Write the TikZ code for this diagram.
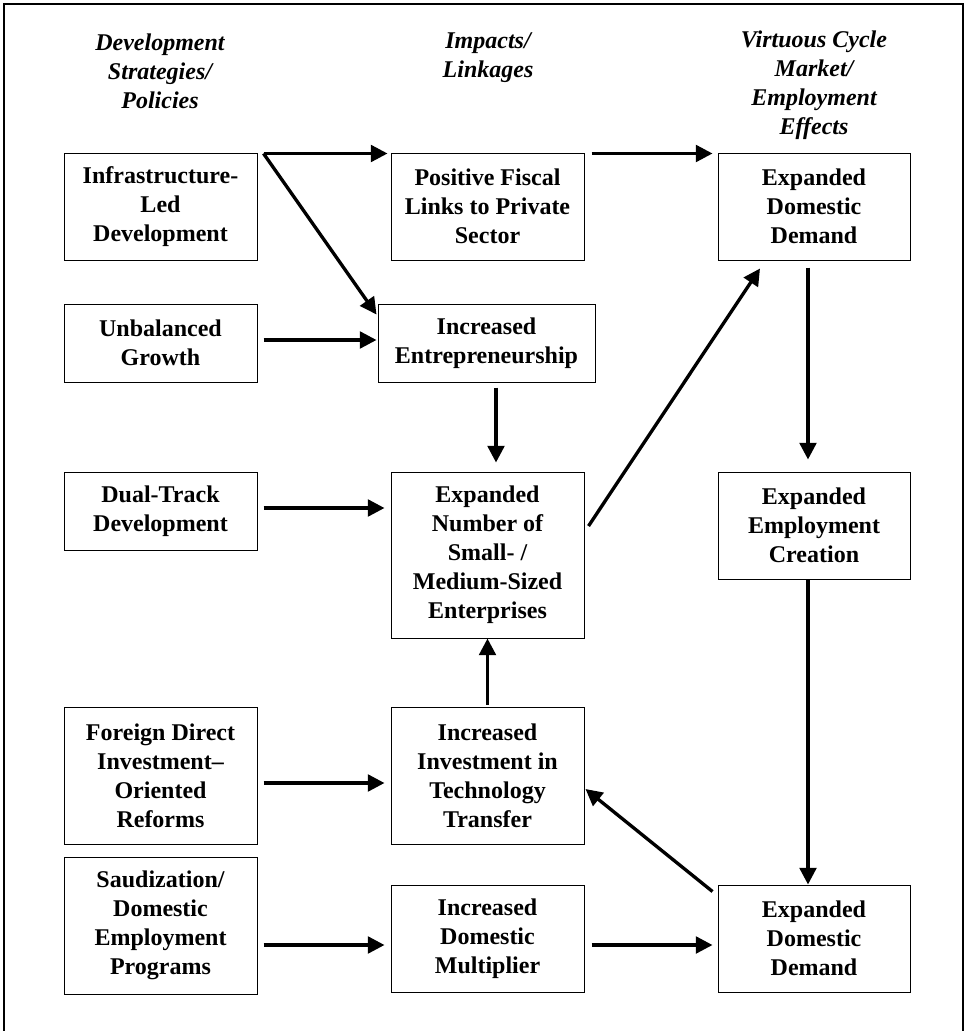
\documentclass[tikz,border=0pt]{standalone}
\usepackage{fontspec}
\setmainfont{Liberation Serif}
\usetikzlibrary{arrows.meta,calc}

\tikzset{
	box/.style={draw, line width=0.75pt, align=center, inner sep=0pt, font=\fontsize{18}{21.75}\selectfont\bfseries},
	dims/.style 2 args={minimum width=#1*0.75pt, minimum height=#2*0.75pt},
	head/.style={align=center, font=\fontsize{18}{21.75}\selectfont\bfseries\itshape},
	link/.style={line width=2.5pt, -{Triangle[length=12.5pt,width=12.5pt]}},
}

\begin{document}
\begin{tikzpicture}[x=0.75pt, y=-0.75pt]
	\useasboundingbox (0,0) rectangle (965,1031);
	\draw[line width=1.5pt] (4,1031) -- (4,4) -- (963,4) -- (963,1031);

	\node[head] (hpolicy) at (160,71.5) {Development\\Strategies/\\Policies};
	\node[head] (himpact) at (488,57.5) {Impacts/\\Linkages};
	\node[head] (heffect) at (814,85.5) {Virtuous Cycle\\Market/\\Employment\\Effects};

	\node[box, dims={193}{107}] (infra) at (160.5,206.5) {Infrastructure-\\Led\\Development};
	\node[box, dims={193}{78}] (unbal) at (160.5,343) {Unbalanced\\Growth};
	\node[box, dims={193}{78}] (dual) at (160.5,511) {Dual-Track\\Development};
	\node[box, dims={193}{137}] (fdi) at (160.5,775.5) {Foreign Direct\\Investment–\\Oriented\\Reforms};
	\node[box, dims={193}{137}] (saud) at (160.5,925.5) {Saudization/\\Domestic\\Employment\\Programs};

	\node[box, dims={193}{107}] (fiscal) at (487.5,206.5) {Positive Fiscal\\Links to Private\\Sector};
	\node[box, dims={217}{78}] (entre) at (486.5,343) {Increased\\Entrepreneurship};
	\node[box, dims={193}{166}] (expnum) at (487.5,555) {Expanded\\Number of\\Small- /\\Medium-Sized\\Enterprises};
	\node[box, dims={193}{137}] (incinv) at (487.5,775.5) {Increased\\Investment in\\Technology\\Transfer};
	\node[box, dims={193}{107}] (incmult) at (487.5,938.5) {Increased\\Domestic\\Multiplier};

	\node[box, dims={192}{107}] (eddtop) at (814,206.5) {Expanded\\Domestic\\Demand};
	\node[box, dims={192}{107}] (empcr) at (814,525.5) {Expanded\\Employment\\Creation};
	\node[box, dims={192}{107}] (eddbot) at (814,938.5) {Expanded\\Domestic\\Demand};

	\draw[link] ($(infra.north east)+(6,1)$) -- ($(fiscal.north west)+(-3,1)$);
	\draw[link] ($(infra.north east)+(6,1)$) -- ($(entre.north west)+(-1,11)$);
	\draw[link] ($(unbal.east)+(6,-3)$) -- ($(entre.west)+(-1,-3)$);
	\draw[link] ($(fiscal.north east)+(7,1)$) -- ($(eddtop.north west)+(-5,1)$);
	\draw[link] ($(entre.south)+(9.5,5)$) -- ($(expnum.north)+(8.5,-9)$);
	\draw[link] ($(dual.east)+(6,-3)$) -- ($(dual.east -| expnum.west)+(-6,-3)$);
	\draw[link] ($(expnum.east)+(4,-29)$) -- ($(eddtop.south)+(-54,8)$);
	\draw[link] ($(eddtop.south)+(-6,7)$) -- ($(empcr.north)+(-6,-12)$);
	\draw[link] ($(empcr.south)+(-6,0)$) -- ($(eddbot.north)+(-6,0)$);
	\draw[link] ($(incinv.north)+(0,-2)$) -- (expnum.south);
	\draw[link] ($(fdi.east)+(6,7.5)$) -- ($(incinv.west)+(-6,7.5)$);
	\draw[link] ($(eddbot.north west)+(-5,7)$) -- ($(incinv.east)+(1,13.5)$);
	\draw[link] ($(saud.east)+(6,19.5)$) -- ($(incmult.west)+(-6,6.5)$);
	\draw[link] ($(incmult.east)+(7,6.5)$) -- ($(eddbot.west)+(-5,6.5)$);
\end{tikzpicture}
\end{document}
